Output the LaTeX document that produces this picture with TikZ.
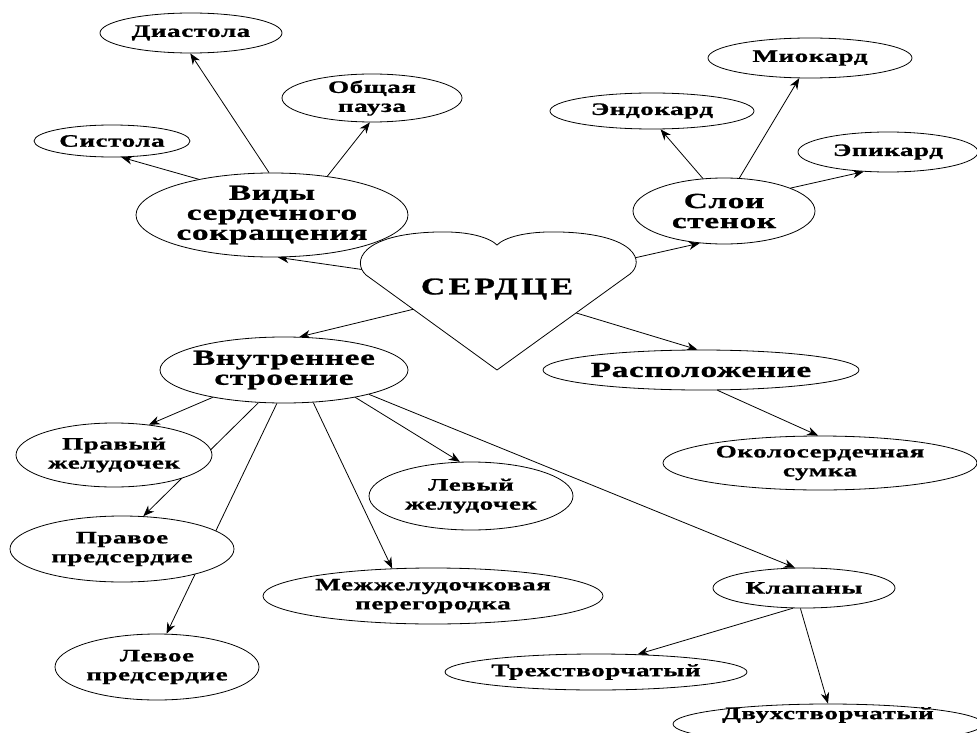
\documentclass[tikz,border=0pt]{standalone}
\usepackage{fontspec}
\newfontfamily\nf{Liberation Serif}[FakeStretch=1.55,LetterSpace=3,FakeBold=1]
\newfontfamily\hf{Liberation Serif}[FakeStretch=1.4,LetterSpace=14,FakeBold=1]
\usetikzlibrary{shapes.geometric,arrows.meta,backgrounds}
\begin{document}
\begin{tikzpicture}[x=1pt,y=-1pt,
  lab/.style={align=center,inner sep=0pt,font=\nf\bfseries\fontsize{17.5}{19}\selectfont},
  labbig/.style={align=center,inner sep=0pt,font=\nf\bfseries\fontsize{21.5}{20}\selectfont},
  ell/.style n args={4}{ellipse,draw,fill=white,line width=0.8pt,inner sep=0pt,
    minimum width=#1,minimum height=#2,label={[#4]center:#3}},
  conn/.style={-{Stealth[length=11pt,width=8.5pt,inset=3.5pt]},line width=0.8pt},
  heartshape/.style={draw,fill=white,line width=0.8pt}]
\useasboundingbox (0,0) rectangle (977,733);
% heart
\path[heartshape] (497,370) -- (366,275) .. controls (352,262) and (360,234) .. (437,232)
  .. controls (470,231) and (490,238) .. (497,245)
  .. controls (504,238) and (524,231) .. (560,232)
  .. controls (637,234) and (645,262) .. (630,274) -- cycle;
\node[inner sep=0pt,font=\hf\bfseries\fontsize{24}{26}\selectfont] (heart) at (497,289) {СЕРДЦЕ};
% nodes
\node[ell={182pt}{40pt}{Диастола}{lab}] (diast) at (191,33) {};
\node[ell={180pt}{48pt}{Общая\\пауза}{lab}] (pauza) at (372,98) {};
\node[ell={156pt}{32pt}{Систола}{lab}] (sist) at (112,141) {};
\node[ell={272pt}{84pt}{Виды\\сердечного\\сокращения}{labbig}] (vidy) at (272,215) {};
\node[ell={204pt}{40pt}{Миокард}{lab}] (miok) at (810,58) {};
\node[ell={204pt}{36pt}{Эндокард}{lab}] (endo) at (652,111) {};
\node[ell={180pt}{40pt}{Эпикард}{lab}] (epi) at (888,152) {};
\node[ell={182pt}{66pt}{Слои\\стенок}{labbig}] (sloi) at (724,211) {};
\node[ell={248pt}{66pt}{Внутреннее\\строение}{labbig}] (vnut) at (284,370) {};
\node[ell={196pt}{64pt}{Правый\\желудочек}{lab}] (prz) at (114,455) {};
\node[ell={224pt}{66pt}{Правое\\предсердие}{lab}] (prp) at (122,549) {};
\node[ell={204pt}{66pt}{Левое\\предсердие}{lab}] (lp) at (157,667) {};
\node[ell={340pt}{56pt}{Межжелудочковая\\перегородка}{lab}] (mezh) at (433,596) {};
\node[ell={204pt}{68pt}{Левый\\желудочек}{lab}] (lz) at (471,496) {};
\node[ell={316pt}{40pt}{Расположение}{labbig}] (rasp) at (701,370) {};
\node[ell={314pt}{54pt}{Околосердечная\\сумка}{lab}] (okolo) at (820,463) {};
\node[ell={182pt}{40pt}{Клапаны}{lab}] (klap) at (804,588) {};
\node[ell={302pt}{36pt}{Трехстворчатый}{lab}] (treh) at (596,672) {};
\node[ell={310pt}{40pt}{Двухстворчатый}{lab,yshift=9pt}] (dvuh) at (828,724) {};
% connectors
\begin{scope}[on background layer]
\draw[conn] (heart.center) -- (vidy.-82);
\draw[conn] (heart.center) -- (sloi.-127);
\draw[conn] (heart.center) -- (vnut.65);
\draw[conn] (heart.center) -- (rasp.100);
\draw[conn] (vidy.154) -- (sist.-60);
\draw[conn] (vidy.94) -- (diast.-92);
\draw[conn] (vidy.35) -- (pauza.-95);
\draw[conn] (sloi.123) -- (endo.-65);
\draw[conn] (sloi.65) -- (miok.-118);
\draw[conn] (sloi.19) -- (epi.-141);
\draw[conn] (vnut.-159) -- (prz.41);
\draw[conn] (vnut.-128) -- (prp.57);
\draw[conn] (vnut.-102) -- (lp.74);
\draw[conn] (vnut.-48) -- (mezh.146);
\draw[conn] (vnut.-21.5) -- (lz.108);
\draw[conn] (vnut.-16) -- (klap.114);
\draw[conn] (rasp.-51) -- (okolo.94);
\draw[conn] (klap.-119) -- (treh.23.5);
\draw[conn] (klap.-100) -- (dvuh.90);
\end{scope}
\end{tikzpicture}
\end{document}
